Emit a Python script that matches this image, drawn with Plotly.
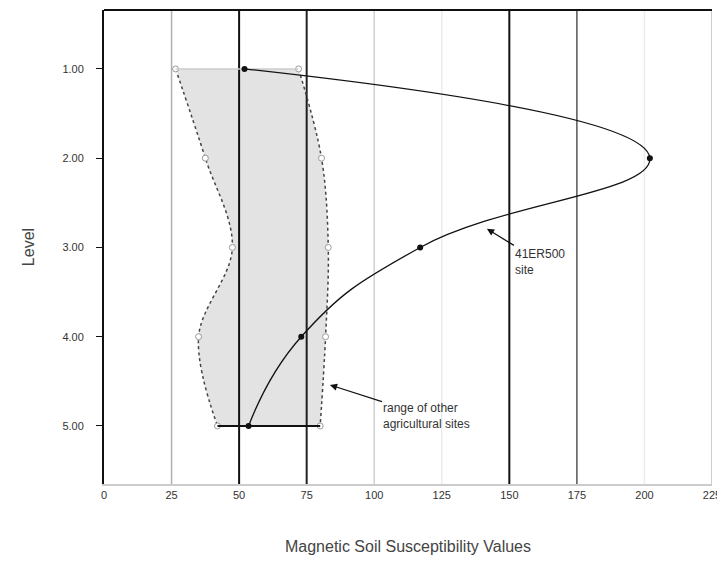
import plotly.graph_objects as go

levels = [1, 2, 3, 4, 5]
site_values = [52, 202, 117, 73, 53.5]
range_low = [26.5, 37.5, 47.5, 35, 42]
range_high = [72, 80.5, 83, 82, 80]
x_ticks = [0, 25, 50, 75, 100, 125, 150, 175, 200, 225]
y_ticks = [1, 2, 3, 4, 5]
y_tick_labels = ["1.00", "2.00", "3.00", "4.00", "5.00"]
grid_colors = {25: "#b0b0b0", 50: "#111111", 75: "#222222", 100: "#d0d0d0",
               125: "#ececec", 150: "#111111", 175: "#555555", 200: "#ececec",
               225: "#bdbdbd"}

fig = go.Figure()

# range of other sites (shaded)
fig.add_trace(go.Scatter(
    x=range_low, y=levels, mode="lines+markers",
    line=dict(color="#444444", width=1.5, dash="dot", shape="spline"),
    marker=dict(color="white", size=6, line=dict(color="#999999", width=1)),
    showlegend=False, hoverinfo="skip"))
fig.add_trace(go.Scatter(
    x=range_high, y=levels, mode="lines+markers", fill="tonextx",
    fillcolor="rgba(0,0,0,0.11)",
    line=dict(color="#444444", width=1.5, dash="dot", shape="spline"),
    marker=dict(color="white", size=6, line=dict(color="#999999", width=1)),
    showlegend=False, hoverinfo="skip"))
# top and bottom edges of the range
fig.add_trace(go.Scatter(
    x=[range_low[0], range_high[0]], y=[levels[0], levels[0]], mode="lines",
    line=dict(color="#cccccc", width=1.5), showlegend=False, hoverinfo="skip"))
fig.add_trace(go.Scatter(
    x=[range_low[-1], range_high[-1]], y=[levels[-1], levels[-1]], mode="lines",
    line=dict(color="#111111", width=2), showlegend=False, hoverinfo="skip"))

# 41ER500 site
fig.add_trace(go.Scatter(
    x=site_values, y=levels, mode="lines+markers",
    line=dict(color="#111111", width=1.3, shape="spline", smoothing=1.3),
    marker=dict(color="#111111", size=6),
    showlegend=False))

for xv, col in grid_colors.items():
    fig.add_shape(type="line", x0=xv, x1=xv, y0=0, y1=1, xref="x", yref="paper",
                  line=dict(color=col, width=2 if col in ("#111111", "#222222") else 1.5),
                  layer="below")

font_main = "Liberation Sans, Arial, sans-serif"

fig.add_annotation(x=141.7, y=2.79, ax=161.5, ay=3.16, axref="x", ayref="y",
                   text="41ER500<br>site", showarrow=True, arrowhead=2, arrowsize=1.2,
                   arrowwidth=1.2, arrowcolor="#111111", align="left",
                   font=dict(family=font_main, size=12, color="#333333"))
fig.add_annotation(x=83.6, y=4.54, ax=119.5, ay=4.89, axref="x", ayref="y",
                   text="range of other<br>agricultural sites", showarrow=True,
                   arrowhead=2, arrowsize=1.2, arrowwidth=1.2, arrowcolor="#111111",
                   align="left", font=dict(family=font_main, size=12, color="#333333"))

fig.update_layout(
    width=717, height=547,
    margin=dict(l=96, r=13, t=2, b=71, autoexpand=False),
    paper_bgcolor="white", plot_bgcolor="white",
    font=dict(family=font_main, size=11, color="#333333"),
    xaxis=dict(range=[0, 225], tickvals=x_ticks, showgrid=False, zeroline=False,
               showline=True, linecolor="#cccccc", linewidth=2, mirror=False,
               ticks="", tickfont=dict(size=11, color="#333333"), automargin=False,
               ticklabeloverflow="allow",
               title=dict(text="Magnetic Soil Susceptibility Values",
                          font=dict(size=16, color="#444444"), standoff=44)),
    yaxis=dict(range=[5.65, 0.34], tickvals=y_ticks, ticktext=y_tick_labels,
               showgrid=False, zeroline=False, showline=True, linecolor="#111111",
               linewidth=2, ticks="outside", ticklen=6, tickcolor="#111111",
               ticklabelstandoff=10,
               tickfont=dict(size=11, color="#333333"), automargin=False,
               title=dict(text="Level", font=dict(size=16, color="#444444"), standoff=24)),
)
fig.add_shape(type="line", x0=0, x1=1, y0=1, y1=1, xref="paper", yref="paper",
              line=dict(color="#111111", width=2))

fig.write_html("out.html")
